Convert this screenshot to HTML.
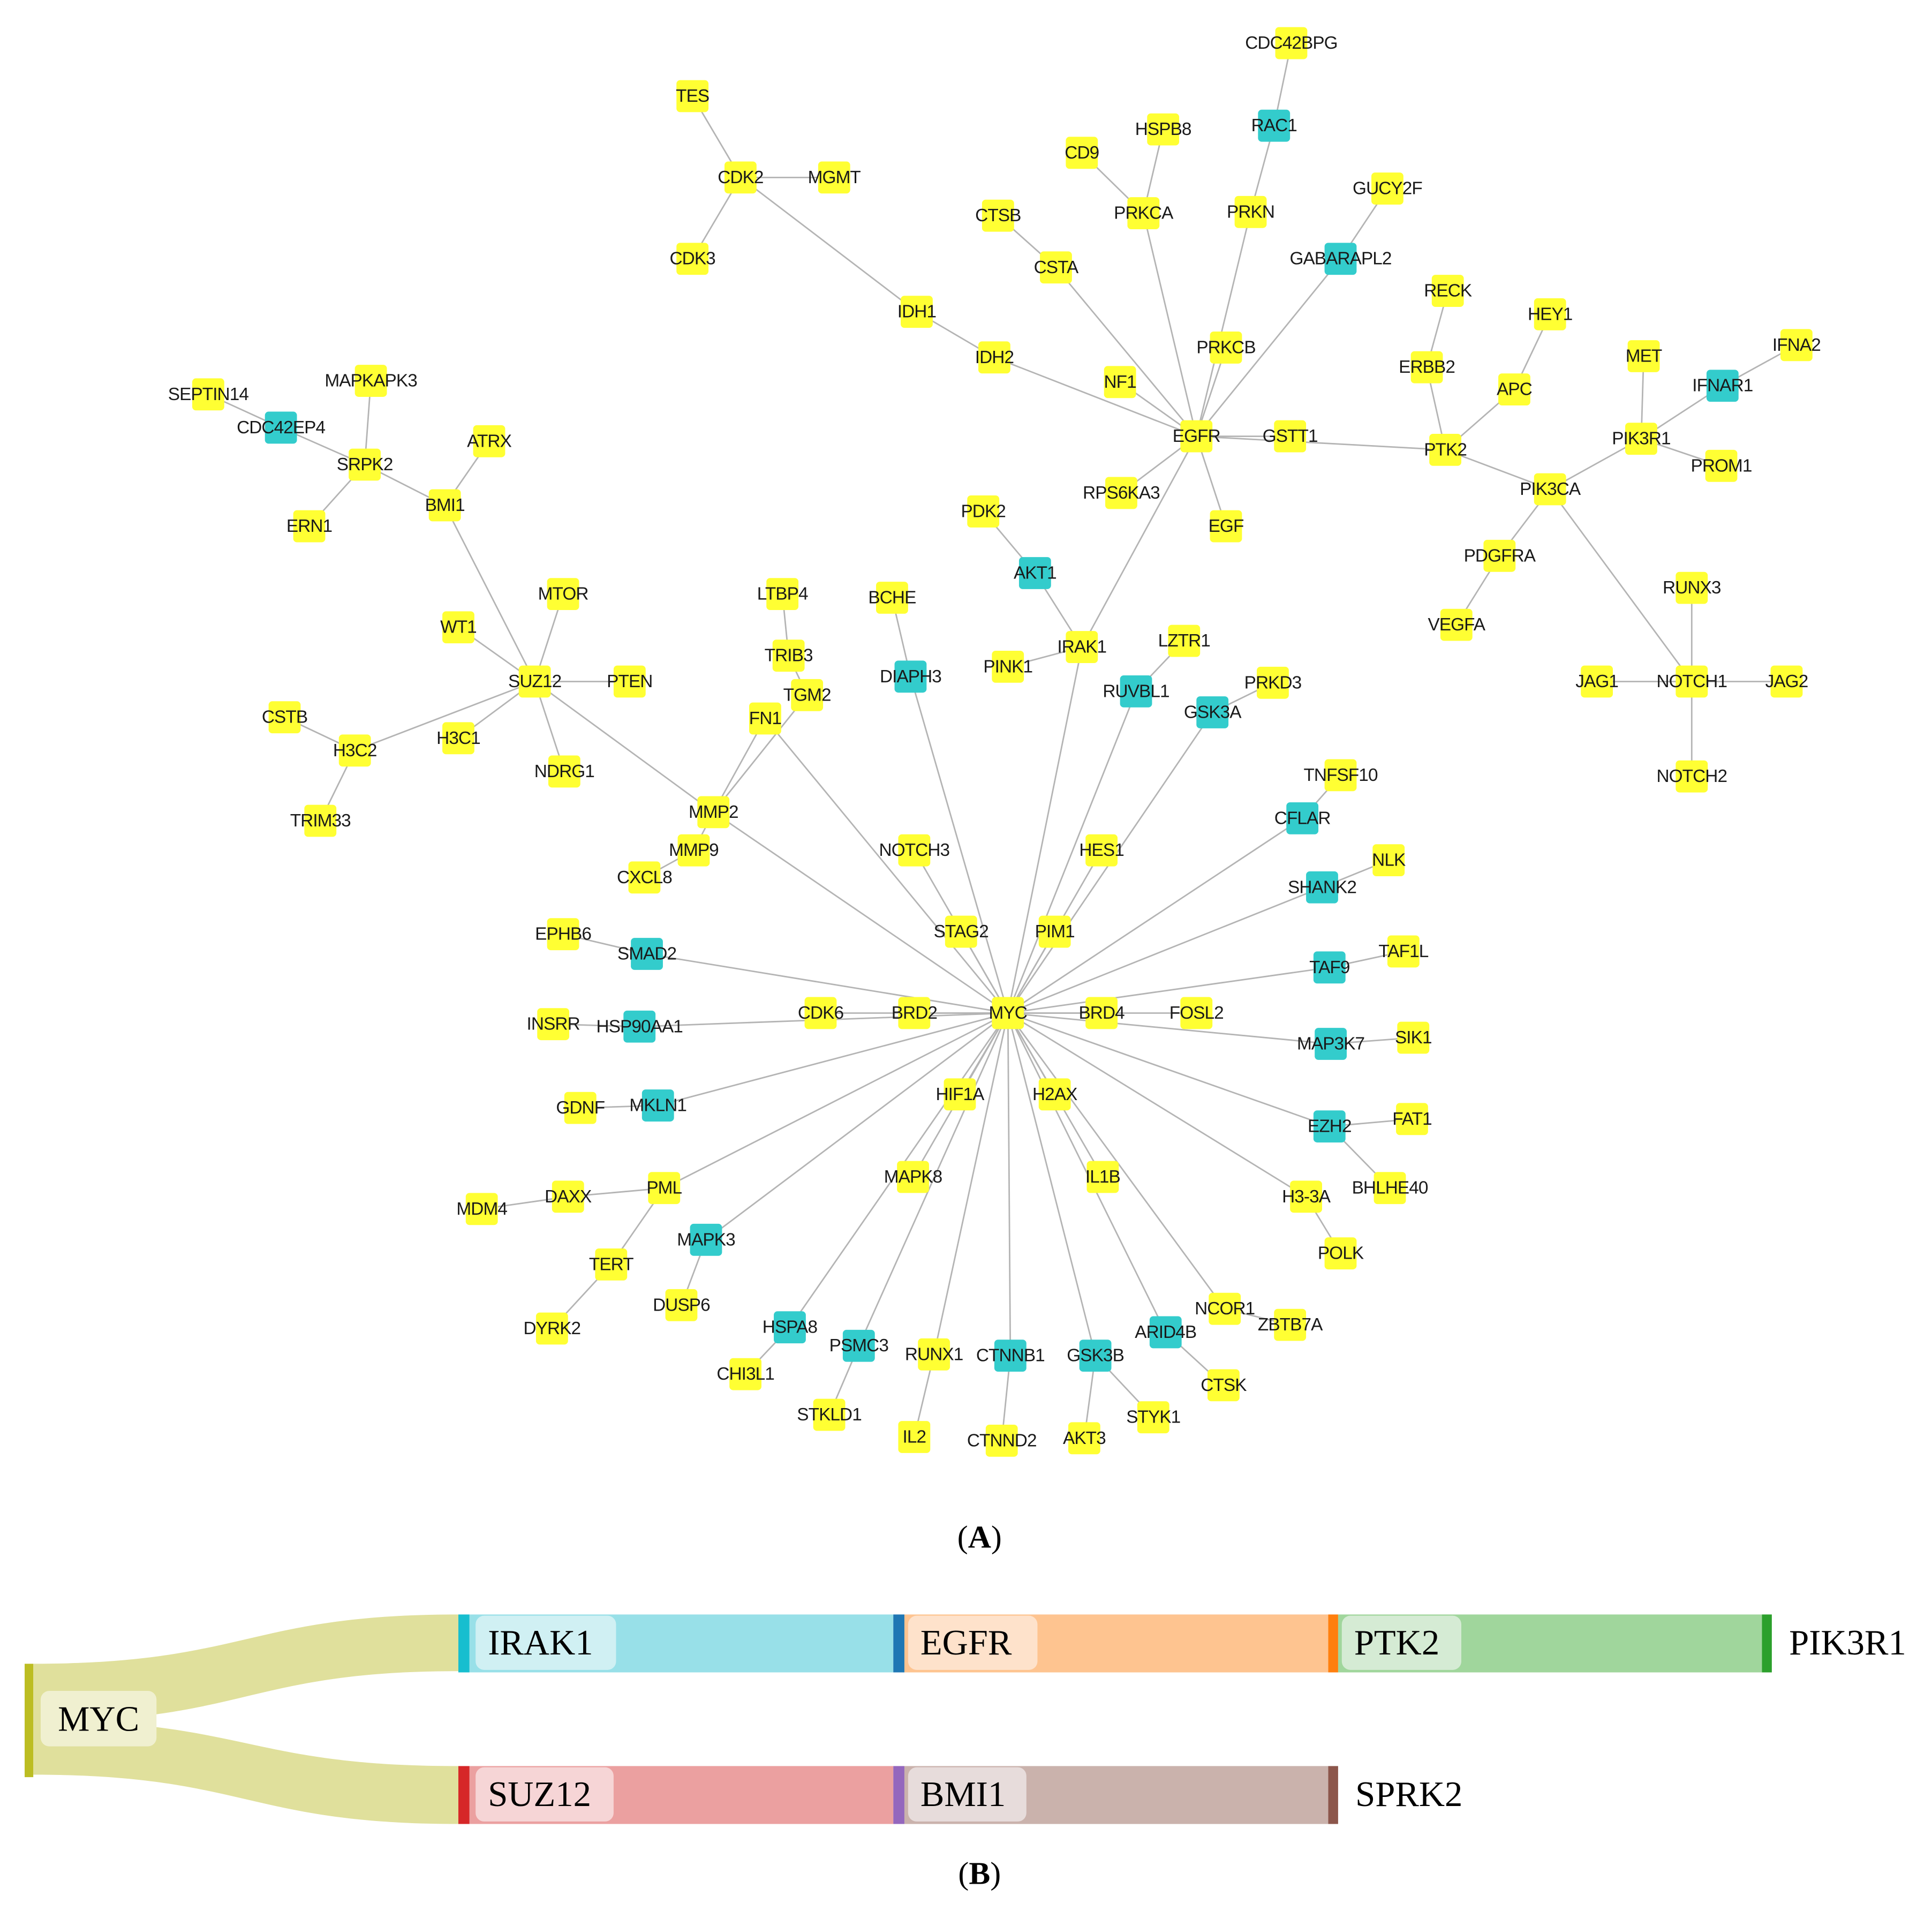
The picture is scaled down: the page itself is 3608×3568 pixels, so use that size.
<!DOCTYPE html>
<html><head><meta charset="utf-8"><style>
html,body{margin:0;padding:0;background:#fff;}
svg{display:block;}
#nodes text{font-family:"Liberation Sans",Arial,sans-serif;font-size:14.5px;fill:#1a1a1a;text-anchor:middle;dominant-baseline:central;letter-spacing:-0.4px;}
.sk{font-family:"Liberation Serif",serif;font-size:29px;fill:#000;dominant-baseline:central;}
</style></head><body>
<svg id="s" width="3608" height="3568" viewBox="0 0 1568 1550.6" xmlns="http://www.w3.org/2000/svg">
<g id="edges" stroke="#b4b4b4" stroke-width="1.2"></g>
<g id="rects"></g>
<g id="nodes">
<text x="1048" y="35" class="Y">CDC42BPG</text>
<text x="1034" y="102" class="C">RAC1</text>
<text x="944" y="105" class="Y">HSPB8</text>
<text x="878" y="124" class="Y">CD9</text>
<text x="928" y="173" class="Y">PRKCA</text>
<text x="1015" y="172" class="Y">PRKN</text>
<text x="1126" y="153" class="Y">GUCY2F</text>
<text x="1088" y="210" class="C">GABARAPL2</text>
<text x="810" y="175" class="Y">CTSB</text>
<text x="857" y="217" class="Y">CSTA</text>
<text x="562" y="78" class="Y">TES</text>
<text x="601" y="144" class="Y">CDK2</text>
<text x="677" y="144" class="Y">MGMT</text>
<text x="562" y="210" class="Y">CDK3</text>
<text x="744" y="253" class="Y">IDH1</text>
<text x="807" y="290" class="Y">IDH2</text>
<text x="909" y="310" class="Y">NF1</text>
<text x="995" y="282" class="Y">PRKCB</text>
<text x="971" y="354" class="Y">EGFR</text>
<text x="1047" y="354" class="Y">GSTT1</text>
<text x="910" y="400" class="Y">RPS6KA3</text>
<text x="995" y="427" class="Y">EGF</text>
<text x="1175" y="236" class="Y">RECK</text>
<text x="1258" y="255" class="Y">HEY1</text>
<text x="1158" y="298" class="Y">ERBB2</text>
<text x="1229" y="316" class="Y">APC</text>
<text x="1334" y="289" class="Y">MET</text>
<text x="1398" y="313" class="C">IFNAR1</text>
<text x="1458" y="280" class="Y">IFNA2</text>
<text x="1332" y="356" class="Y">PIK3R1</text>
<text x="1397" y="378" class="Y">PROM1</text>
<text x="1173" y="365" class="Y">PTK2</text>
<text x="1258" y="397" class="Y">PIK3CA</text>
<text x="1217" y="451" class="Y">PDGFRA</text>
<text x="1182" y="507" class="Y">VEGFA</text>
<text x="1373" y="477" class="Y">RUNX3</text>
<text x="1296" y="553" class="Y">JAG1</text>
<text x="1373" y="553" class="Y">NOTCH1</text>
<text x="1450" y="553" class="Y">JAG2</text>
<text x="1373" y="630" class="Y">NOTCH2</text>
<text x="798" y="415" class="Y">PDK2</text>
<text x="840" y="465" class="C">AKT1</text>
<text x="878" y="525" class="Y">IRAK1</text>
<text x="818" y="541" class="Y">PINK1</text>
<text x="961" y="520" class="Y">LZTR1</text>
<text x="922" y="561" class="C">RUVBL1</text>
<text x="984" y="578" class="C">GSK3A</text>
<text x="1033" y="554" class="Y">PRKD3</text>
<text x="169" y="320" class="Y">SEPTIN14</text>
<text x="301" y="309" class="Y">MAPKAPK3</text>
<text x="228" y="347" class="C">CDC42EP4</text>
<text x="296" y="377" class="Y">SRPK2</text>
<text x="397" y="358" class="Y">ATRX</text>
<text x="251" y="427" class="Y">ERN1</text>
<text x="361" y="410" class="Y">BMI1</text>
<text x="457" y="482" class="Y">MTOR</text>
<text x="372" y="509" class="Y">WT1</text>
<text x="434" y="553" class="Y">SUZ12</text>
<text x="511" y="553" class="Y">PTEN</text>
<text x="231" y="582" class="Y">CSTB</text>
<text x="288" y="609" class="Y">H3C2</text>
<text x="372" y="599" class="Y">H3C1</text>
<text x="458" y="626" class="Y">NDRG1</text>
<text x="260" y="666" class="Y">TRIM33</text>
<text x="635" y="482" class="Y">LTBP4</text>
<text x="724" y="485" class="Y">BCHE</text>
<text x="640" y="532" class="Y">TRIB3</text>
<text x="655" y="564" class="Y">TGM2</text>
<text x="739" y="549" class="C">DIAPH3</text>
<text x="621" y="583" class="Y">FN1</text>
<text x="579" y="659" class="Y">MMP2</text>
<text x="563" y="690" class="Y">MMP9</text>
<text x="523" y="712" class="Y">CXCL8</text>
<text x="742" y="690" class="Y">NOTCH3</text>
<text x="894" y="690" class="Y">HES1</text>
<text x="1088" y="629" class="Y">TNFSF10</text>
<text x="1057" y="664" class="C">CFLAR</text>
<text x="1127" y="698" class="Y">NLK</text>
<text x="1073" y="720" class="C">SHANK2</text>
<text x="780" y="756" class="Y">STAG2</text>
<text x="856" y="756" class="Y">PIM1</text>
<text x="457" y="758" class="Y">EPHB6</text>
<text x="525" y="774" class="C">SMAD2</text>
<text x="1079" y="785" class="C">TAF9</text>
<text x="1139" y="772" class="Y">TAF1L</text>
<text x="449" y="831" class="Y">INSRR</text>
<text x="519" y="833" class="C">HSP90AA1</text>
<text x="666" y="822" class="Y">CDK6</text>
<text x="742" y="822" class="Y">BRD2</text>
<text x="818" y="822" class="Y">MYC</text>
<text x="894" y="822" class="Y">BRD4</text>
<text x="971" y="822" class="Y">FOSL2</text>
<text x="1080" y="847" class="C">MAP3K7</text>
<text x="1147" y="842" class="Y">SIK1</text>
<text x="471" y="899" class="Y">GDNF</text>
<text x="534" y="897" class="C">MKLN1</text>
<text x="779" y="888" class="Y">HIF1A</text>
<text x="856" y="888" class="Y">H2AX</text>
<text x="1079" y="914" class="C">EZH2</text>
<text x="1146" y="908" class="Y">FAT1</text>
<text x="539" y="964" class="Y">PML</text>
<text x="461" y="971" class="Y">DAXX</text>
<text x="391" y="981" class="Y">MDM4</text>
<text x="741" y="955" class="Y">MAPK8</text>
<text x="895" y="955" class="Y">IL1B</text>
<text x="1060" y="971" class="Y">H3-3A</text>
<text x="1128" y="964" class="Y">BHLHE40</text>
<text x="1088" y="1017" class="Y">POLK</text>
<text x="573" y="1006" class="C">MAPK3</text>
<text x="496" y="1026" class="Y">TERT</text>
<text x="553" y="1059" class="Y">DUSP6</text>
<text x="448" y="1078" class="Y">DYRK2</text>
<text x="641" y="1077" class="C">HSPA8</text>
<text x="697" y="1092" class="C">PSMC3</text>
<text x="605" y="1115" class="Y">CHI3L1</text>
<text x="758" y="1099" class="Y">RUNX1</text>
<text x="820" y="1100" class="C">CTNNB1</text>
<text x="889" y="1100" class="C">GSK3B</text>
<text x="946" y="1081" class="C">ARID4B</text>
<text x="994" y="1062" class="Y">NCOR1</text>
<text x="1047" y="1075" class="Y">ZBTB7A</text>
<text x="993" y="1124" class="Y">CTSK</text>
<text x="673" y="1148" class="Y">STKLD1</text>
<text x="936" y="1150" class="Y">STYK1</text>
<text x="742" y="1166" class="Y">IL2</text>
<text x="813" y="1169" class="Y">CTNND2</text>
<text x="880" y="1167" class="Y">AKT3</text>
</g>
<text x="795" y="1247" text-anchor="middle" dominant-baseline="central" font-family="Liberation Serif,serif" font-size="26">(<tspan font-weight="bold">A</tspan>)</text>
<text x="795" y="1520" text-anchor="middle" dominant-baseline="central" font-family="Liberation Serif,serif" font-size="26">(<tspan font-weight="bold">B</tspan>)</text>

<!-- Sankey -->
<path d="M27,1350 C200,1350 200,1310 372,1310 L372,1356 C200,1356 200,1397 27,1397 Z" fill="#e0e09c"/>
<path d="M27,1396 C200,1396 200,1433 372,1433 L372,1480 C200,1480 200,1440 27,1440 Z" fill="#e0e09c"/>
<rect x="20" y="1350" width="7" height="92" fill="#bcbd22"/>
<rect x="33" y="1372" width="94" height="45" rx="7" fill="#f0f0d0"/>
<text x="80" y="1395" text-anchor="middle" class="sk">MYC</text>

<rect x="381" y="1310" width="344" height="47" fill="#98e0e8"/>
<rect x="372" y="1310" width="9" height="47" fill="#17becf"/>
<rect x="386" y="1311" width="114" height="44" rx="7" fill="#d0f0f3"/>
<text x="396" y="1333" class="sk">IRAK1</text>
<rect x="734" y="1310" width="344" height="47" fill="#fec490"/>
<rect x="725" y="1310" width="9" height="47" fill="#1f77b4"/>
<rect x="737" y="1311" width="105" height="44" rx="7" fill="#fee2cb"/>
<text x="747" y="1333" class="sk">EGFR</text>
<rect x="1086" y="1310" width="344" height="47" fill="#a0d69c"/>
<rect x="1078" y="1310" width="8" height="47" fill="#ff7f0e"/>
<rect x="1089" y="1311" width="97" height="44" rx="7" fill="#d5ebd4"/>
<text x="1099" y="1333" class="sk">PTK2</text>
<rect x="1430" y="1310" width="8" height="47" fill="#2ca02c"/>
<text x="1452" y="1333" class="sk">PIK3R1</text>

<rect x="381" y="1433" width="344" height="47" fill="#eba0a0"/>
<rect x="372" y="1433" width="9" height="47" fill="#d62728"/>
<rect x="386" y="1434" width="112" height="44" rx="7" fill="#f6d5d6"/>
<text x="396" y="1456" class="sk">SUZ12</text>
<rect x="734" y="1433" width="344" height="47" fill="#cab2ac"/>
<rect x="725" y="1433" width="9" height="47" fill="#9467bd"/>
<rect x="737" y="1434" width="96" height="44" rx="7" fill="#e7dcdb"/>
<text x="747" y="1456" class="sk">BMI1</text>
<rect x="1078" y="1433" width="8" height="47" fill="#8c564b"/>
<text x="1100" y="1456" class="sk">SPRK2</text>
</svg>
<script>
(function(){
var NS="http://www.w3.org/2000/svg";
var P={};
document.querySelectorAll('#nodes text').forEach(function(t){
 var x=+t.getAttribute('x'),y=+t.getAttribute('y');P[t.textContent]=[x,y];
 var r=document.createElementNS(NS,'rect');
 r.setAttribute('x',x-13);r.setAttribute('y',y-13);r.setAttribute('width',26);r.setAttribute('height',26);r.setAttribute('rx',3);
 r.setAttribute('fill',t.getAttribute('class')=='C'?'#33cccc':'#ffff33');
 document.getElementById('rects').appendChild(r);
});
var E="CDC42BPG-RAC1 RAC1-PRKN PRKN-EGFR HSPB8-PRKCA CD9-PRKCA PRKCA-EGFR GUCY2F-GABARAPL2 GABARAPL2-EGFR CTSB-CSTA CSTA-EGFR TES-CDK2 CDK2-MGMT CDK2-CDK3 CDK2-IDH1 IDH1-IDH2 IDH2-EGFR NF1-EGFR PRKCB-EGFR EGFR-GSTT1 EGFR-RPS6KA3 EGFR-EGF EGFR-PTK2 RECK-ERBB2 ERBB2-PTK2 HEY1-APC APC-PTK2 PTK2-PIK3CA MET-PIK3R1 IFNA2-IFNAR1 IFNAR1-PIK3R1 PIK3R1-PROM1 PIK3R1-PIK3CA PIK3CA-PDGFRA PDGFRA-VEGFA PIK3CA-NOTCH1 RUNX3-NOTCH1 JAG1-NOTCH1 NOTCH1-JAG2 NOTCH1-NOTCH2 EGFR-IRAK1 PDK2-AKT1 AKT1-IRAK1 PINK1-IRAK1 IRAK1-MYC LZTR1-RUVBL1 RUVBL1-MYC PRKD3-GSK3A GSK3A-MYC SEPTIN14-CDC42EP4 CDC42EP4-SRPK2 MAPKAPK3-SRPK2 SRPK2-ERN1 SRPK2-BMI1 ATRX-BMI1 BMI1-SUZ12 MTOR-SUZ12 WT1-SUZ12 SUZ12-PTEN SUZ12-H3C1 SUZ12-NDRG1 SUZ12-H3C2 CSTB-H3C2 H3C2-TRIM33 SUZ12-MMP2 LTBP4-TRIB3 TRIB3-TGM2 TGM2-MMP2 FN1-MMP2 FN1-MYC BCHE-DIAPH3 DIAPH3-MYC MMP2-MMP9 MMP9-CXCL8 MMP2-MYC NOTCH3-MYC HES1-MYC TNFSF10-CFLAR CFLAR-MYC NLK-SHANK2 SHANK2-MYC STAG2-MYC PIM1-MYC EPHB6-SMAD2 SMAD2-MYC TAF9-MYC TAF9-TAF1L INSRR-HSP90AA1 HSP90AA1-MYC CDK6-MYC BRD2-MYC BRD4-MYC FOSL2-MYC MAP3K7-MYC MAP3K7-SIK1 GDNF-MKLN1 MKLN1-MYC HIF1A-MYC H2AX-MYC EZH2-MYC EZH2-FAT1 EZH2-BHLHE40 PML-MYC DAXX-PML MDM4-DAXX PML-TERT TERT-DYRK2 MAPK8-MYC IL1B-MYC H3-3A-MYC H3-3A-POLK MAPK3-MYC MAPK3-DUSP6 HSPA8-MYC HSPA8-CHI3L1 PSMC3-MYC PSMC3-STKLD1 RUNX1-MYC RUNX1-IL2 CTNNB1-MYC CTNNB1-CTNND2 GSK3B-MYC GSK3B-AKT3 GSK3B-STYK1 ARID4B-MYC ARID4B-CTSK NCOR1-MYC NCOR1-ZBTB7A".split(' ');
var g=document.getElementById('edges');
E.forEach(function(e){
 var i=e.indexOf('-',e.indexOf('H3-3A')==0?5:0);
 var a=e.slice(0,i),b=e.slice(i+1);
 var A=P[a],B=P[b];if(!A||!B)return;
 var l=document.createElementNS(NS,'line');
 l.setAttribute('x1',A[0]);l.setAttribute('y1',A[1]);l.setAttribute('x2',B[0]);l.setAttribute('y2',B[1]);
 g.appendChild(l);
});
})();
</script>
</body></html>
